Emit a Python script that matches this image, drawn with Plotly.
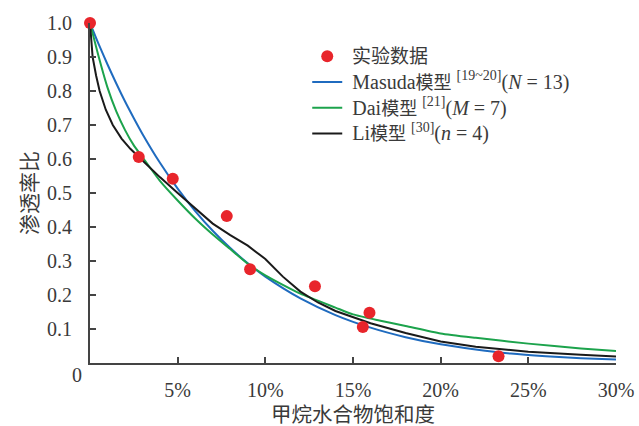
import plotly.graph_objects as go

# Experimental data (hydrate saturation %, permeability ratio)
exp_s = [0, 2.78, 4.72, 7.80, 9.13, 12.83, 15.56, 15.94, 23.30]
exp_k = [1.0, 0.606, 0.542, 0.432, 0.276, 0.226, 0.106, 0.148, 0.020]

# Masuda model (N = 13)
masuda_s = [0, 0.5, 1, 1.5, 2, 2.5, 3, 4, 5, 6, 7, 8, 9, 10, 12, 14, 16, 18, 20, 22, 24, 26, 28, 30]
masuda_k = [1.0, 0.937, 0.878, 0.822, 0.769, 0.72, 0.673, 0.588, 0.513, 0.447, 0.389, 0.338,
            0.293, 0.254, 0.19, 0.141, 0.104, 0.076, 0.055, 0.04, 0.028, 0.020, 0.014, 0.010]

# Dai model (M = 7)
dai_s = [0, 0.5, 1, 1.5, 2, 2.5, 3, 4, 5, 6, 7, 8, 9, 10, 11, 12, 14, 15, 16.5, 18, 20, 22, 25, 28, 30]
dai_k = [1.0, 0.90, 0.81, 0.74, 0.685, 0.64, 0.605, 0.535, 0.478, 0.425, 0.378, 0.335, 0.292,
         0.258, 0.23, 0.204, 0.163, 0.143, 0.125, 0.109, 0.087, 0.074, 0.057, 0.043, 0.035]

# Li model (n = 4)
li_s = [0, 0.15, 0.35, 0.55, 0.9, 1.3, 1.8, 2.3, 2.8, 3.4, 4, 5, 6, 7, 8, 9, 10, 11, 12, 13,
        14, 15, 16, 18, 20, 22, 25, 28, 30]
li_k = [1.0, 0.9, 0.845, 0.8, 0.745, 0.7, 0.66, 0.63, 0.605, 0.575, 0.546, 0.5, 0.455, 0.41,
        0.376, 0.345, 0.306, 0.254, 0.21, 0.178, 0.153, 0.134, 0.117, 0.088, 0.063, 0.048,
        0.033, 0.024, 0.019]

x_tickvals = [5, 10, 15, 20, 25, 30]
x_ticktext = ["5%", "10%", "15%", "20%", "25%", "30%"]
y_tickvals = [0.1, 0.2, 0.3, 0.4, 0.5, 0.6, 0.7, 0.8, 0.9, 1.0]
y_ticktext = ["0.1", "0.2", "0.3", "0.4", "0.5", "0.6", "0.7", "0.8", "0.9", "1.0"]
x_title = "甲烷水合物饱和度"
y_title = "渗透率比"

FONT = "Liberation Serif, Times New Roman, Noto Sans CJK SC, serif"
CJK = "Noto Sans CJK SC, sans-serif"
TXT = "#3a3a3a"
AX = "#444444"
NB = "\u00a0"

def lg(model, ref, param, val):
    return ("<span style='font-size:20px'>" + NB + model + "</span>"
            "<span style='font-size:18px'>模型</span>"
            "<span style='font-size:20px'> <sup>[" + ref + "]</sup>(<i>" + param + "</i> = " + val + ")</span>")

fig = go.Figure()

fig.add_trace(go.Scatter(
    x=masuda_s, y=masuda_k, mode="lines",
    line=dict(color="#1f6bbf", width=2, shape="spline", smoothing=0.6),
    name=lg("Masuda", "19~20", "N", "13"), legendrank=2))
fig.add_trace(go.Scatter(
    x=dai_s, y=dai_k, mode="lines",
    line=dict(color="#1ca34c", width=2, shape="spline", smoothing=0.6),
    name=lg("Dai", "21", "M", "7"), legendrank=3))
fig.add_trace(go.Scatter(
    x=li_s, y=li_k, mode="lines",
    line=dict(color="#1a1a1a", width=2),
    name=lg("Li", "30", "n", "4"), legendrank=4))
fig.add_trace(go.Scatter(
    x=exp_s, y=exp_k, mode="markers",
    marker=dict(color="#e8252b", size=12),
    name="<span style='font-size:19px'>" + NB + "实验数据</span>",
    cliponaxis=False, legendrank=1))

fig.update_layout(
    width=639, height=426, autosize=False,
    margin=dict(l=90, r=23, t=23, b=63, autoexpand=False),
    paper_bgcolor="white", plot_bgcolor="white",
    font=dict(family=FONT, size=20, color=TXT),
    showlegend=True,
    legend=dict(x=0.413, y=0.955, xanchor="left", yanchor="top",
                bgcolor="rgba(0,0,0,0)", font=dict(family=FONT, size=17.5, color=TXT),
                tracegroupgap=0),
    xaxis=dict(range=[0, 30], tickvals=x_tickvals, ticktext=x_ticktext,
               ticks="inside", ticklen=6, tickwidth=1.5, tickcolor=AX,
               showline=True, linecolor=AX, linewidth=2, showgrid=False, zeroline=False,
               ticklabelstandoff=8, automargin=False,
               tickfont=dict(family=FONT, size=20, color=TXT)),
    yaxis=dict(range=[0, 1], tickvals=y_tickvals, ticktext=y_ticktext,
               ticks="inside", ticklen=6, tickwidth=1.5, tickcolor=AX,
               showline=True, linecolor=AX, linewidth=2, showgrid=False, zeroline=False,
               ticklabelstandoff=12, automargin=False,
               tickfont=dict(family=FONT, size=20, color=TXT)),
    annotations=[
        dict(text="0", x=-0.025, y=-0.035, xref="paper", yref="paper",
             xanchor="center", yanchor="middle", showarrow=False,
             font=dict(family=FONT, size=20, color=TXT)),
        dict(text=x_title, x=0.5, y=-0.148, xref="paper", yref="paper",
             xanchor="center", yanchor="middle", showarrow=False,
             font=dict(family=CJK, size=20.5, color=TXT)),
        dict(text=y_title, x=-0.118, y=0.5, xref="paper", yref="paper",
             xanchor="center", yanchor="middle", showarrow=False, textangle=-90,
             font=dict(family=CJK, size=21, color=TXT)),
    ],
)

fig.write_html("out.html", config={"displayModeBar": False},
               post_script="document.body.style.margin='0';document.documentElement.style.margin='0';")
